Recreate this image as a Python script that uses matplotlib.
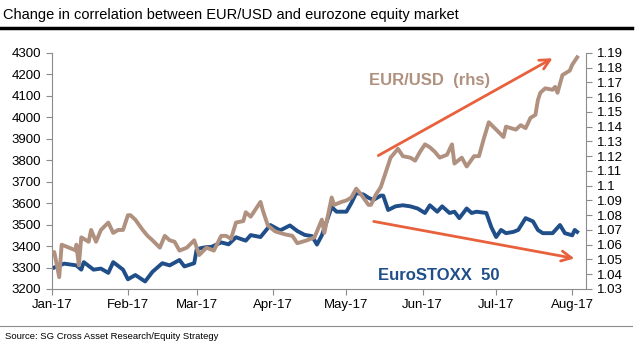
import pandas as pd
import matplotlib
matplotlib.use("Agg")
import matplotlib.pyplot as plt
from matplotlib.lines import Line2D
from matplotlib.ticker import FuncFormatter

plt.rcParams['font.family'] = ['Liberation Sans', 'DejaVu Sans']

# EuroSTOXX 50 (lhs)
stoxx_dates = ['2017-01-02', '2017-01-06', '2017-01-11', '2017-01-13', '2017-01-14',
               '2017-01-18', '2017-01-21', '2017-01-24', '2017-01-26', '2017-01-30',
               '2017-02-01', '2017-02-04', '2017-02-08', '2017-02-11', '2017-02-15',
               '2017-02-18', '2017-02-22', '2017-02-24', '2017-02-28', '2017-03-01',
               '2017-03-03', '2017-03-05', '2017-03-07', '2017-03-11', '2017-03-14',
               '2017-03-17', '2017-03-21', '2017-03-23', '2017-03-27', '2017-03-29',
               '2017-03-31', '2017-04-04', '2017-04-08', '2017-04-11', '2017-04-14',
               '2017-04-17', '2017-04-19', '2017-04-21', '2017-04-25', '2017-04-27',
               '2017-05-01', '2017-05-03', '2017-05-05', '2017-05-08', '2017-05-10',
               '2017-05-12', '2017-05-15', '2017-05-16', '2017-05-18', '2017-05-21',
               '2017-05-24', '2017-05-27', '2017-05-30', '2017-06-02', '2017-06-04',
               '2017-06-07', '2017-06-09', '2017-06-12', '2017-06-14', '2017-06-16',
               '2017-06-19', '2017-06-21', '2017-06-23', '2017-06-27', '2017-06-29',
               '2017-07-01', '2017-07-03', '2017-07-05', '2017-07-08', '2017-07-10',
               '2017-07-13', '2017-07-16', '2017-07-18', '2017-07-20', '2017-07-24',
               '2017-07-27', '2017-07-29', '2017-08-01', '2017-08-02', '2017-08-03']
stoxx = [3300, 3318, 3310, 3290, 3325, 3290, 3295, 3275, 3325, 3290,
         3245, 3265, 3235, 3280, 3320, 3310, 3335, 3305, 3320, 3385,
         3391, 3395, 3396, 3417, 3408, 3441, 3425, 3451, 3442, 3470,
         3498, 3473, 3496, 3470, 3452, 3446, 3407, 3450, 3582, 3560,
         3560, 3600, 3647, 3640, 3625, 3615, 3635, 3635, 3568, 3585,
         3590, 3585, 3575, 3554, 3590, 3560, 3585, 3554, 3560, 3530,
         3575, 3554, 3560, 3554, 3489, 3442, 3475, 3460, 3466, 3475,
         3530, 3515, 3475, 3460, 3460, 3498, 3460, 3450, 3475, 3466]

# EUR/USD (rhs)
fx_dates = ['2017-01-01', '2017-01-02', '2017-01-04', '2017-01-05', '2017-01-08',
            '2017-01-11', '2017-01-11', '2017-01-12', '2017-01-13', '2017-01-16',
            '2017-01-17', '2017-01-19', '2017-01-21', '2017-01-24', '2017-01-26',
            '2017-01-28', '2017-01-30', '2017-02-01', '2017-02-02', '2017-02-04',
            '2017-02-07', '2017-02-09', '2017-02-11', '2017-02-14', '2017-02-16',
            '2017-02-18', '2017-02-20', '2017-02-22', '2017-02-25', '2017-02-28',
            '2017-03-02', '2017-03-05', '2017-03-08', '2017-03-11', '2017-03-13',
            '2017-03-15', '2017-03-17', '2017-03-20', '2017-03-21', '2017-03-23',
            '2017-03-27', '2017-03-28', '2017-03-30', '2017-04-02', '2017-04-06',
            '2017-04-09', '2017-04-11', '2017-04-15', '2017-04-18', '2017-04-21',
            '2017-04-22', '2017-04-25', '2017-04-26', '2017-04-29', '2017-05-01',
            '2017-05-03', '2017-05-05', '2017-05-07', '2017-05-10', '2017-05-11',
            '2017-05-13', '2017-05-15', '2017-05-18', '2017-05-19', '2017-05-21',
            '2017-05-22', '2017-05-24', '2017-05-27', '2017-05-29', '2017-05-31',
            '2017-06-02', '2017-06-04', '2017-06-06', '2017-06-08', '2017-06-11',
            '2017-06-13', '2017-06-14', '2017-06-17', '2017-06-19', '2017-06-22',
            '2017-06-24', '2017-06-26', '2017-06-28', '2017-07-01', '2017-07-04',
            '2017-07-05', '2017-07-09', '2017-07-11', '2017-07-13', '2017-07-15',
            '2017-07-17', '2017-07-18', '2017-07-19', '2017-07-21', '2017-07-24',
            '2017-07-25', '2017-07-26', '2017-07-28', '2017-07-31', '2017-08-01',
            '2017-08-03']
fx = [1.055, 1.055, 1.038, 1.060, 1.058, 1.056, 1.060, 1.046, 1.065, 1.062,
      1.070, 1.062, 1.070, 1.075, 1.068, 1.070, 1.070, 1.080, 1.080, 1.077,
      1.070, 1.066, 1.063, 1.058, 1.066, 1.063, 1.062, 1.056, 1.058, 1.063,
      1.053, 1.058, 1.056, 1.066, 1.066, 1.064, 1.075, 1.076, 1.082, 1.079,
      1.089, 1.083, 1.073, 1.069, 1.067, 1.066, 1.061, 1.063, 1.065, 1.077,
      1.068, 1.092, 1.087, 1.089, 1.090, 1.092, 1.098, 1.094, 1.087, 1.087,
      1.094, 1.099, 1.114, 1.119, 1.123, 1.125, 1.120, 1.119, 1.117, 1.123,
      1.128, 1.126, 1.123, 1.119, 1.121, 1.128, 1.115, 1.119, 1.113, 1.120,
      1.120, 1.132, 1.143, 1.138, 1.133, 1.140, 1.138, 1.141, 1.139, 1.146,
      1.148, 1.158, 1.163, 1.166, 1.165, 1.167, 1.163, 1.175, 1.178, 1.182,
      1.187]

month_ticks = ['2017-01-01', '2017-02-01', '2017-03-01', '2017-04-01',
               '2017-05-01', '2017-06-01', '2017-07-01', '2017-08-01']
month_labels = ['Jan-17', 'Feb-17', 'Mar-17', 'Apr-17', 'May-17', 'Jun-17', 'Jul-17', 'Aug-17']

blue = '#1f4e89'
tan = '#b0907f'
arrow_col = '#e8603c'
grey = '#8c8c8c'

fig = plt.figure(figsize=(6.4, 3.55), dpi=100)
ax = fig.add_axes([0.081, 0.186, 0.835, 0.665])
ax2 = ax.twinx()

ax.plot(pd.to_datetime(stoxx_dates), stoxx, color=blue, lw=2.8, solid_joinstyle='round')
ax2.plot(pd.to_datetime(fx_dates), fx, color=tan, lw=2.8, solid_joinstyle='round')

ax.set_xlim(pd.Timestamp('2017-01-01'), pd.Timestamp('2017-01-01') + pd.Timedelta(days=217.7))
ax.set_ylim(3200, 4300)
ax.set_yticks(range(3200, 4301, 100))
ax2.set_ylim(1.03, 1.19)
ax2.set_yticks([1.03 + 0.01 * i for i in range(17)])
ax2.yaxis.set_major_formatter(FuncFormatter(lambda v, p: f'{round(v, 2):g}'))
ax.set_xticks(pd.to_datetime(month_ticks))
ax.set_xticklabels(month_labels)

for a in (ax, ax2):
    a.spines['top'].set_visible(False)
    for s in ('left', 'right', 'bottom'):
        a.spines[s].set_color(grey)
    a.tick_params(colors=grey, labelcolor='black', labelsize=9.5, length=4, width=0.8)
ax.spines['right'].set_visible(False)
ax2.spines['left'].set_visible(False)
ax2.spines['bottom'].set_visible(False)

# trend arrows
ax2.annotate('', xy=(pd.Timestamp('2017-07-25'), 1.1873), xytext=(pd.Timestamp('2017-05-13'), 1.1195),
             arrowprops=dict(arrowstyle='->', color=arrow_col, lw=2.0, mutation_scale=18))
ax.annotate('', xy=(pd.Timestamp('2017-08-03'), 3340), xytext=(pd.Timestamp('2017-05-11'), 3517),
            arrowprops=dict(arrowstyle='->', color=arrow_col, lw=2.0, mutation_scale=18))

ax2.text(pd.Timestamp('2017-05-10'), 1.171, 'EUR/USD  (rhs)', color=tan, fontsize=12,
         fontweight='bold', va='center', ha='left')
ax.text(pd.Timestamp('2017-05-14'), 3265, 'EuroSTOXX  50', color=blue, fontsize=12,
        fontweight='bold', va='center', ha='left')

fig.text(0.005, 0.958, 'Change in correlation between EUR/USD and eurozone equity market',
         fontsize=10.5, va='center', ha='left')
fig.add_artist(Line2D([0, 0.988], [0.921, 0.921], color='black', lw=2.5))
fig.add_artist(Line2D([0, 0.988], [0.082, 0.082], color=grey, lw=0.8))
fig.text(0.008, 0.053, 'Source: SG Cross Asset Research/Equity Strategy', fontsize=6.8,
         va='center', ha='left')

fig.savefig('out.png', dpi=100)
